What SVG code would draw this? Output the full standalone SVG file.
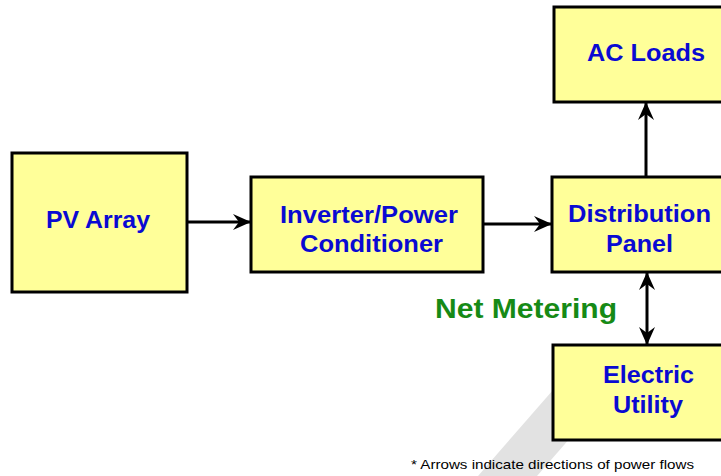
<svg xmlns="http://www.w3.org/2000/svg" width="721" height="476" viewBox="0 0 721 476">
<style>
.box{fill:#ffff99;stroke:#000;stroke-width:3}
.lbl{font-family:"Liberation Sans",Arial,sans-serif;font-weight:bold;font-size:24.5px;fill:#0a0ad2;text-anchor:middle}
.conn{stroke:#000;stroke-width:3;fill:none}
</style>
<defs>
<marker id="ah" viewBox="0 0 18 16" refX="17" refY="8" markerWidth="18" markerHeight="16" markerUnits="userSpaceOnUse" orient="auto-start-reverse">
<path d="M0,0 L18,8 L0,16 L6,8 z" fill="#000"/>
</marker>
</defs>
<rect width="721" height="476" fill="#fff"/>
<polygon points="553,390 612,390 537,476 478,476" fill="#e2e2e2"/>
<g id="connectors">
<line class="conn" x1="187" y1="222" x2="250" y2="222" marker-end="url(#ah)"/>
<line class="conn" x1="483" y1="224" x2="551" y2="224" marker-end="url(#ah)"/>
<line class="conn" x1="646" y1="177" x2="646" y2="103" marker-end="url(#ah)"/>
<line class="conn" x1="647" y1="273" x2="647" y2="344" marker-start="url(#ah)" marker-end="url(#ah)"/>
</g>
<g id="pv">
<rect class="box" x="12" y="153" width="175" height="139"/>
<text class="lbl" x="98" y="228" textLength="104" lengthAdjust="spacingAndGlyphs">PV Array</text>
</g>
<g id="inverter">
<rect class="box" x="251" y="177" width="232" height="95"/>
<text class="lbl" x="369" y="223" textLength="178" lengthAdjust="spacingAndGlyphs">Inverter/Power</text>
<text class="lbl" x="371.5" y="252" textLength="143" lengthAdjust="spacingAndGlyphs">Conditioner</text>
</g>
<g id="distribution">
<rect class="box" x="552" y="177" width="180" height="95"/>
<text class="lbl" x="639.5" y="222" textLength="143" lengthAdjust="spacingAndGlyphs">Distribution</text>
<text class="lbl" x="639.5" y="252" textLength="67" lengthAdjust="spacingAndGlyphs">Panel</text>
</g>
<g id="acloads">
<rect class="box" x="554" y="7" width="180" height="95"/>
<text class="lbl" x="646" y="61" textLength="118" lengthAdjust="spacingAndGlyphs">AC Loads</text>
</g>
<g id="utility">
<rect class="box" x="553" y="345" width="180" height="95"/>
<text class="lbl" x="648.5" y="383" textLength="91" lengthAdjust="spacingAndGlyphs">Electric</text>
<text class="lbl" x="648" y="413" textLength="70" lengthAdjust="spacingAndGlyphs">Utility</text>
</g>
<text x="435" y="318" font-family="Liberation Sans,Arial,sans-serif" font-weight="bold" font-size="27" fill="#168a16" textLength="182" lengthAdjust="spacingAndGlyphs">Net Metering</text>
<text x="411" y="469" font-family="Liberation Sans,Arial,sans-serif" font-size="13" fill="#000" textLength="283" lengthAdjust="spacingAndGlyphs">* Arrows indicate directions of power flows</text>
</svg>
